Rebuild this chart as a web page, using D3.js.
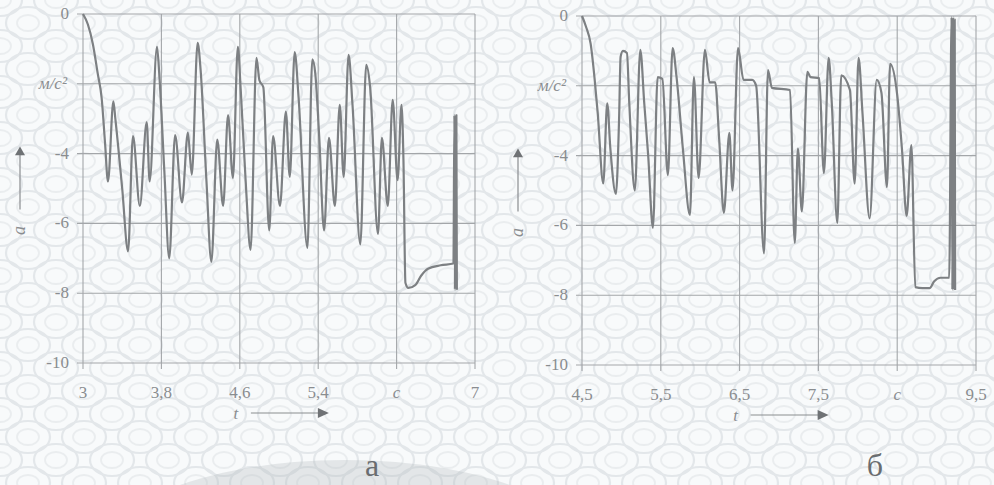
<!DOCTYPE html>
<html><head><meta charset="utf-8">
<script src="https://cdn.jsdelivr.net/npm/d3@7"></script>
<style>html,body{margin:0;padding:0;background:#f8fafb;}svg{display:block;}</style>
</head><body>
<svg id="chart" width="994" height="485"></svg>
<script>
// ---- data ----
const tA = [3.00,3.05,3.10,3.15,3.19,3.225,3.255,3.31,3.33,3.40,3.46,3.51,3.58,3.65,3.68,3.755,3.78,3.83,3.88,3.94,4.01,4.07,4.11,4.17,4.20,4.26,4.31,4.37,4.43,4.48,4.53,4.58,4.61,4.66,4.71,4.77,4.80,4.84,4.90,4.94,5.01,5.07,5.11,5.16,5.20,5.29,5.34,5.37,5.41,5.46,5.51,5.57,5.62,5.66,5.71,5.75,5.83,5.89,5.93,6.01,6.05,6.11,6.16,6.21,6.25,6.27,6.29,6.32,6.39,6.45,6.52,6.65,6.78,6.79,6.795,6.80,6.805,6.81,6.815];
const aA = [0,-0.3,-0.85,-1.7,-2.4,-3.7,-4.8,-2.5,-3.0,-5.0,-6.8,-3.5,-5.5,-3.1,-4.8,-0.94,-1.8,-4.5,-7.0,-3.47,-5.4,-3.4,-4.6,-0.83,-1.6,-4.8,-7.1,-3.6,-5.5,-2.9,-4.7,-0.94,-2.2,-4.8,-6.76,-1.26,-1.9,-2.1,-6.2,-3.5,-5.5,-2.8,-4.67,-1.09,-2.4,-6.7,-1.3,-1.7,-3.5,-6.2,-3.55,-5.5,-2.6,-4.67,-1.17,-2.6,-6.6,-1.46,-2.1,-6.3,-3.55,-5.5,-2.46,-4.76,-2.6,-4.2,-7.7,-7.85,-7.77,-7.5,-7.3,-7.2,-7.15,-2.9,-7.9,-2.9,-7.9,-2.9,-7.9];

const tB = [4.50,4.55,4.61,4.66,4.70,4.77,4.82,4.86,4.93,4.97,4.99,5.02,5.07,5.10,5.17,5.24,5.29,5.34,5.40,5.46,5.52,5.59,5.65,5.70,5.78,5.87,5.92,5.98,6.06,6.12,6.19,6.24,6.30,6.37,6.41,6.48,6.55,6.66,6.71,6.81,6.86,6.91,7.14,7.20,7.24,7.29,7.36,7.40,7.51,7.57,7.63,7.67,7.74,7.79,7.90,7.96,8.01,8.06,8.15,8.24,8.30,8.37,8.41,8.50,8.56,8.62,8.68,8.73,8.82,8.91,8.97,9.05,9.16,9.19,9.20,9.21,9.22,9.23,9.235];
const aB = [0,-0.3,-0.8,-1.8,-2.8,-4.8,-2.5,-3.8,-5.1,-3.0,-1.17,-1.0,-1.06,-2.5,-5.0,-0.97,-2.5,-4.0,-6.07,-1.75,-1.8,-4.56,-0.92,-1.75,-3.8,-5.7,-1.75,-4.64,-0.97,-1.9,-1.9,-3.5,-5.64,-3.35,-5.0,-0.92,-1.83,-1.83,-2.0,-6.8,-1.55,-2.06,-2.12,-6.5,-3.8,-5.6,-1.6,-1.75,-1.78,-4.5,-1.2,-2.5,-5.93,-1.7,-2.12,-4.8,-1.2,-2.8,-5.8,-1.83,-2.2,-4.9,-1.37,-2.26,-3.8,-5.73,-3.7,-7.77,-7.8,-7.8,-7.6,-7.5,-7.5,-0.03,-7.85,-0.03,-7.85,-0.1,-7.85];

const yTicks = [0,-2,-4,-6,-8,-10];
const yTickLabels = ["0","м/с²","-4","-6","-8","-10"];
const xTicksA = [3,3.8,4.6,5.4,6.2,7];
const xTickLabelsA = ["3","3,8","4,6","5,4","c","7"];
const xTicksB = [4.5,5.5,6.5,7.5,8.5,9.5];
const xTickLabelsB = ["4,5","5,5","6,5","7,5","c","9,5"];
const captions = ["а","б"];

// ---- drawing ----
const svg = d3.select("#chart");
const defs = svg.append("defs");
const pat = defs.append("pattern").attr("id","wm").attr("patternUnits","userSpaceOnUse")
  .attr("width",56).attr("height",46);
pat.append("rect").attr("width",56).attr("height",46).attr("fill","#f8fafb");
[[28,23],[0,0],[56,0],[0,46],[56,46]].forEach(([cx,cy])=>{
  pat.append("ellipse").attr("cx",cx).attr("cy",cy).attr("rx",22).attr("ry",16)
    .attr("fill","none").attr("stroke","#e3e7ea").attr("stroke-width",2.2);
  pat.append("ellipse").attr("cx",cx).attr("cy",cy).attr("rx",11).attr("ry",8)
    .attr("fill","none").attr("stroke","#eaedef").attr("stroke-width",1.8);
});
svg.append("rect").attr("width",994).attr("height",485).attr("fill","url(#wm)");
svg.append("ellipse").attr("cx",345).attr("cy",570).attr("rx",260).attr("ry",110)
  .attr("fill","#b4b8bc").attr("opacity",0.3);

const serif = "'Times New Roman', Times, 'Liberation Serif', 'DejaVu Serif', serif";
const gridCol = "#a3a6a9", txtCol = "#8a8d90", lineCol = "#7d8083";

function panel(opts){
  const {t, a, x0, x1, y0, y1, dom, xt, xl, cap, capX, yAx} = opts;
  const x = d3.scaleLinear().domain(dom).range([x0,x1]);
  const y = d3.scaleLinear().domain([-10,0]).range([y1,y0]);
  const g = svg.append("g");
  g.selectAll(".hg").data(yTicks).join("line")
    .attr("x1",x0-6).attr("x2",x1).attr("y1",d=>y(d)).attr("y2",d=>y(d))
    .attr("stroke",gridCol).attr("stroke-width",1.1);
  g.selectAll(".vg").data(xt).join("line")
    .attr("x1",d=>x(d)).attr("x2",d=>x(d)).attr("y1",y0).attr("y2",y1+6)
    .attr("stroke",gridCol).attr("stroke-width",1.1);
  g.selectAll(".yl").data(yTicks).join("text")
    .attr("x",(d,i)=> i===1 ? x0-16 : x0-14).attr("y",d=>y(d)+5)
    .attr("text-anchor","end").attr("font-family",serif)
    .attr("font-size",17).attr("font-style",(d,i)=>i===1?"italic":"normal")
    .attr("fill",txtCol).text((d,i)=>yTickLabels[i]);
  g.selectAll(".xl").data(xt).join("text")
    .attr("x",d=>x(d)).attr("y",y1+35).attr("text-anchor","middle")
    .attr("font-family",serif).attr("font-size",17)
    .attr("font-style",(d,i)=>xl[i]==="c"?"italic":"normal")
    .attr("fill",txtCol).text((d,i)=>xl[i]);
  const line = d3.line().curve(d3.curveMonotoneX).x((d,i)=>x(t[i])).y((d,i)=>y(a[i]));
  g.append("path").attr("d",line(a)).attr("fill","none")
    .attr("stroke",lineCol).attr("stroke-width",2.2).attr("stroke-linejoin","round");
  g.append("line").attr("x1",yAx).attr("x2",yAx).attr("y1",y(-5.6)).attr("y2",y(-4.0))
    .attr("stroke",txtCol).attr("stroke-width",1.2);
  g.append("path").attr("d",`M${yAx-5},${y(-4.05)} L${yAx+5},${y(-4.05)} L${yAx},${y(-3.8)} Z`)
    .attr("fill","#6f7275");
  g.append("text").attr("transform",`translate(${yAx+5},${y(-6.2)}) rotate(-90)`)
    .attr("text-anchor","middle").attr("font-family",serif).attr("font-style","italic")
    .attr("font-size",18).attr("fill",txtCol).text("a");
  const tx = x0 + (x1-x0)*0.39;
  g.append("text").attr("x",tx).attr("y",y1+56).attr("text-anchor","middle")
    .attr("font-family",serif).attr("font-style","italic").attr("font-size",17)
    .attr("fill",txtCol).text("t");
  g.append("line").attr("x1",tx+15).attr("x2",tx+85).attr("y1",y1+50).attr("y2",y1+50)
    .attr("stroke",txtCol).attr("stroke-width",1.2);
  g.append("path").attr("d",`M${tx+82},${y1+45} L${tx+93},${y1+50} L${tx+82},${y1+55} Z`)
    .attr("fill","#6f7275");
  g.append("text").attr("x",capX).attr("y",476).attr("text-anchor","middle")
    .attr("font-family",serif).attr("font-size",32).attr("fill","#6a6d70").text(cap);
}

panel({t:tA, a:aA, x0:83, x1:475, y0:14, y1:363, dom:[3,7], xt:xTicksA, xl:xTickLabelsA,
  cap:captions[0], capX:372, yAx:20});
panel({t:tB, a:aB, x0:582, x1:976, y0:16, y1:365, dom:[4.5,9.5], xt:xTicksB, xl:xTickLabelsB,
  cap:captions[1], capX:875, yAx:518});
</script>
</body></html>
